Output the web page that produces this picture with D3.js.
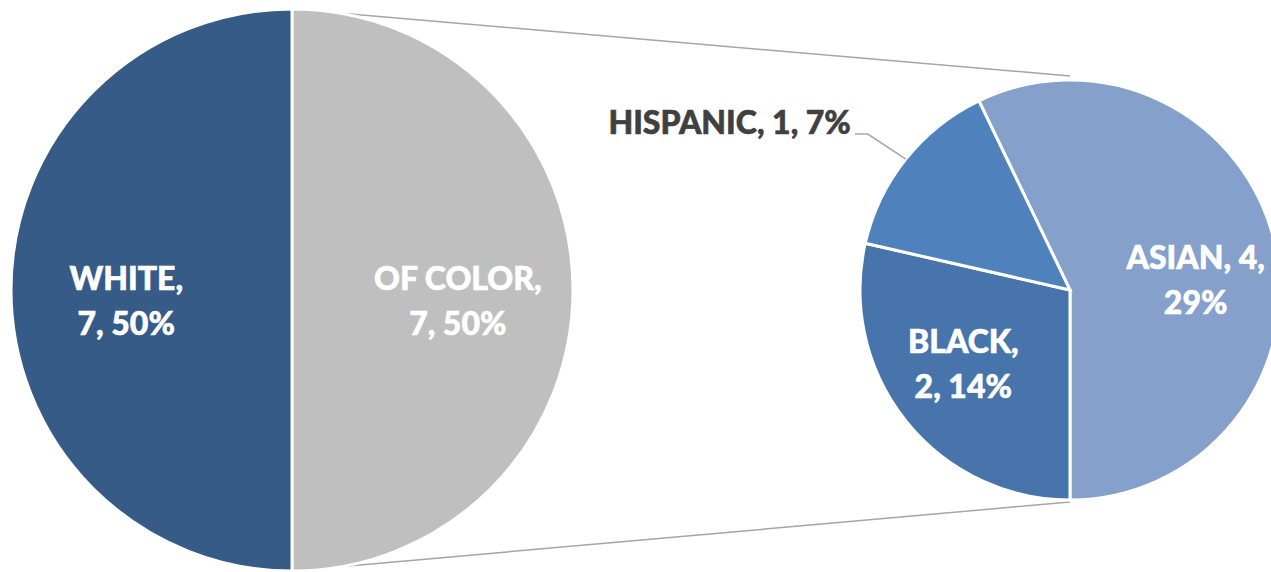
<!DOCTYPE html>
<html>
<head>
<meta charset="utf-8">
<script src="https://cdn.jsdelivr.net/npm/d3@7"></script>
<style>
  html, body { margin: 0; padding: 0; background: #fff; }
  svg text { font-family: Lato, "Liberation Sans", sans-serif; font-weight: 900; }
</style>
</head>
<body>
<script>
// main pie
const mainCategories = ["OF COLOR", "WHITE"];
const mainValues = [7, 7];
// split of "of color" in the second pie
const subCategories = ["ASIAN", "BLACK", "HISPANIC"];
const subValues = [4, 2, 1];

const width = 1271, height = 572;
const total = d3.sum(mainValues);
const pct = v => Math.round(v / total * 100) + "%";

const mainColors = ["#bfbfbf", "#365b87"];
const subColors = ["#84a0cb", "#4874ac", "#4f81bd"];
const fontSize = 32;

const svg = d3.select("body").append("svg")
    .attr("width", width)
    .attr("height", height);

const main = { cx: 292, cy: 290, r: 281 };
const sub = { cx: 1070, cy: 290, r: 210 };

// connector lines, drawn first so the pies sit on top
svg.append("line")
    .attr("x1", main.cx).attr("y1", main.cy - main.r)
    .attr("x2", sub.cx).attr("y2", sub.cy - sub.r - 4)
    .attr("stroke", "#a6a6a6").attr("stroke-width", 1.5);
svg.append("line")
    .attr("x1", main.cx).attr("y1", main.cy + main.r)
    .attr("x2", sub.cx).attr("y2", sub.cy + sub.r + 2)
    .attr("stroke", "#a6a6a6").attr("stroke-width", 1.5);

// ---- left pie
const mainPie = d3.pie().sort(null).value(d => d)(mainValues);
const mainArc = d3.arc().innerRadius(0).outerRadius(main.r);
const mainG = svg.append("g").attr("transform", `translate(${main.cx},${main.cy})`);

mainG.selectAll("path")
    .data(mainPie)
    .join("path")
    .attr("d", mainArc)
    .attr("fill", (d, i) => mainColors[i])
    .attr("stroke", "#fff")
    .attr("stroke-width", 3);

const mainLabelArc = d3.arc().innerRadius(main.r * 0.59).outerRadius(main.r * 0.59);
mainG.selectAll("text.lbl")
    .data(mainPie)
    .join("text")
    .attr("class", "lbl")
    .attr("transform", d => {
        const [x, y] = mainLabelArc.centroid(d);
        return `translate(${x},${y})`;
    })
    .attr("text-anchor", "middle")
    .attr("fill", "#fff")
    .attr("stroke", "#fff")
    .attr("stroke-width", 0.6)
    .attr("font-size", fontSize)
    .selectAll("tspan")
    .data((d, i) => [mainCategories[i] + ",", d.value + ", " + pct(d.value)])
    .join("tspan")
    .attr("x", 0)
    .attr("y", (d, i) => i === 0 ? 0 : 45)
    .text(d => d);

// ---- right pie
const subTotal = d3.sum(subValues);
const start = Math.PI - subValues[0] / subTotal * 2 * Math.PI;
const subPie = d3.pie().sort(null).value(d => d)
    .startAngle(start).endAngle(start + 2 * Math.PI)(subValues);
const subArc = d3.arc().innerRadius(0).outerRadius(sub.r);
const subG = svg.append("g").attr("transform", `translate(${sub.cx},${sub.cy})`);

subG.selectAll("path")
    .data(subPie)
    .join("path")
    .attr("d", subArc)
    .attr("fill", (d, i) => subColors[i])
    .attr("stroke", "#fff")
    .attr("stroke-width", 3);

// inside labels for asian & black
const insideLbl = [
    { i: 0, k: 0.57, lines: [subCategories[0] + ", " + subValues[0] + ",", pct(subValues[0])], dy: -18, dx: 0, shift: 6 },
    { i: 1, k: 0.65, lines: [subCategories[1] + ",", subValues[1] + ", " + pct(subValues[1])], dy: -22, dx: 0, shift: 0 }
];
insideLbl.forEach(l => {
    const d = subPie[l.i];
    const a = (d.startAngle + d.endAngle) / 2 + (l.i === 0 ? 0.2 : 0);
    const x = Math.sin(a) * sub.r * l.k + l.dx + l.shift;
    const y = -Math.cos(a) * sub.r * l.k + l.dy;
    subG.append("text")
        .attr("transform", `translate(${x},${y})`)
        .attr("text-anchor", "middle")
        .attr("fill", "#fff")
        .attr("stroke", "#fff")
        .attr("stroke-width", 0.6)
        .attr("font-size", fontSize)
        .selectAll("tspan")
        .data(l.lines)
        .join("tspan")
        .attr("x", 0)
        .attr("y", (t, j) => j * 45)
        .text(t => t);
});

// hispanic label outside with leader line
const h = subPie[2];
const ha = (h.startAngle + h.endAngle) / 2;
const p0 = [Math.sin(ha) * sub.r, -Math.cos(ha) * sub.r];
const p1 = [p0[0] - 38, p0[1] - 25];
const p2 = [p1[0] - 13, p1[1]];
subG.append("polyline")
    .attr("points", [p0, p1, p2].map(p => p.join(",")).join(" "))
    .attr("fill", "none")
    .attr("stroke", "#a6a6a6")
    .attr("stroke-width", 1.5);
subG.append("text")
    .attr("x", p2[0] - 4)
    .attr("y", p2[1])
    .attr("text-anchor", "end")
    .attr("fill", "#404040")
    .attr("stroke", "#404040")
    .attr("stroke-width", 0.6)
    .attr("font-size", fontSize)
    .text(subCategories[2] + ", " + subValues[2] + ", " + pct(subValues[2]));
</script>
</body>
</html>
